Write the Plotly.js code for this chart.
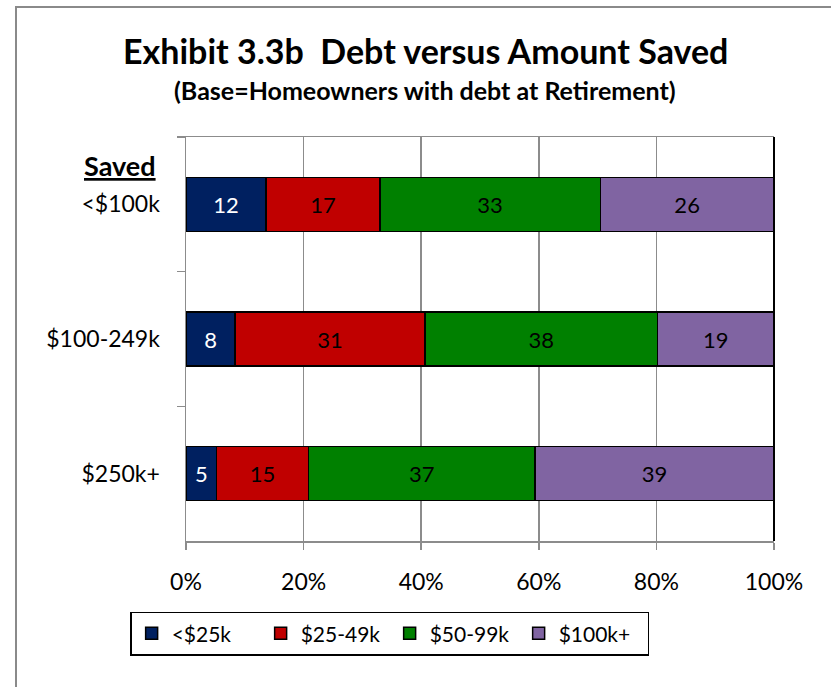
<!DOCTYPE html>
<html>
<head>
<meta charset="utf-8">
<script src="https://cdn.plot.ly/plotly-3.0.1.min.js"></script>
<style>
  body { margin: 0; background: #fff; }
  #wrap { position: relative; width: 831px; height: 687px; }
  #chart { width: 831px; height: 687px; }
  #frame { position: absolute; left: 15px; top: 6px; right: 0; bottom: 0;
           border-left: 2px solid #8a8a8a; border-top: 2px solid #8a8a8a; pointer-events: none; }
</style>
</head>
<body>
<div id="wrap">
  <div id="chart"></div>
  <div id="frame"></div>
</div>
<script>
// amount saved groups, top to bottom
const saved = ['<$100k', '$100-249k', '$250k+'];

// debt at retirement (% of homeowners with debt)
const debtUnder25 = [12, 8, 5];
const debt25to49 = [17, 31, 15];
const debt50to99 = [33, 38, 37];
const debt100plus = [26, 19, 39];

const seriesNames = ['<$25k', '$25-49k', '$50-99k', '$100k+'];
const seriesValues = [debtUnder25, debt25to49, debt50to99, debt100plus];
const colors = ['#002060', '#C00000', '#008000', '#8064A2'];
const textColors = ['#ffffff', '#000000', '#000000', '#000000'];

const pctTicks = [0, 20, 40, 60, 80, 100];

const FONT = 'Lato, Calibri, "Liberation Sans", sans-serif';

const traces = seriesValues.map((vals, i) => ({
  type: 'bar',
  orientation: 'h',
  name: seriesNames[i],
  y: saved,
  x: vals,
  text: vals.map(String),
  texttemplate: '%{text}',
  textposition: 'inside',
  insidetextanchor: 'middle',
  textangle: 0,
  constraintext: 'none',
  textfont: { family: FONT, size: 22, color: textColors[i] },
  marker: { color: colors[i], line: { color: '#000000', width: 1.5 } },
  hoverinfo: 'name+x'
}));

const layout = {
  width: 831,
  height: 687,
  margin: { l: 186, r: 57, t: 137, b: 146 },
  paper_bgcolor: '#ffffff',
  plot_bgcolor: '#ffffff',
  font: { family: FONT, size: 22, color: '#000000' },
  barmode: 'stack',
  barnorm: 'percent',
  bargap: 0.6,
  showlegend: true,
  xaxis: {
    range: [0, 100],
    tickmode: 'array',
    tickvals: pctTicks,
    ticktext: pctTicks.map(v => v + '%'),
    showgrid: true,
    gridcolor: '#8c8c8c',
    gridwidth: 1.5,
    zeroline: false,
    showline: true,
    linecolor: '#8c8c8c',
    linewidth: 1.5,
    mirror: true,
    ticks: 'outside',
    ticklen: 7,
    tickcolor: '#8c8c8c',
    tickwidth: 1.5,
    ticklabelstandoff: 13,
    tickfont: { family: FONT, size: 23 },
    fixedrange: true
  },
  yaxis: {
    type: 'category',
    categoryorder: 'array',
    categoryarray: saved,
    autorange: 'reversed',
    showgrid: false,
    zeroline: false,
    showline: true,
    linecolor: '#8c8c8c',
    linewidth: 1.5,
    ticks: 'outside',
    tickson: 'boundaries',
    ticklen: 8,
    tickcolor: '#8c8c8c',
    tickwidth: 1.5,
    ticklabelstandoff: 20,
    tickfont: { family: FONT, size: 23 },
    fixedrange: true
  },
  legend: {
    orientation: 'h',
    x: -0.095,
    xanchor: 'left',
    y: -0.175,
    yanchor: 'top',
    bgcolor: '#ffffff',
    bordercolor: '#000000',
    borderwidth: 1.5,
    traceorder: 'normal',
    entrywidth: 84,
    entrywidthmode: 'pixels',
    font: { family: FONT, size: 21 }
  },
  shapes: [
    { type: 'line', xref: 'paper', yref: 'paper', x0: 1, x1: 1, y0: 0, y1: 1,
      line: { color: '#000000', width: 2 } }
  ],
  annotations: [
    { text: '<b>Exhibit 3.3b  Debt versus Amount Saved</b>', xref: 'paper', yref: 'paper',
      x: (425 - 186) / 588, y: 1 + (137 - 50) / 404, xanchor: 'center', yanchor: 'middle',
      showarrow: false, font: { family: FONT, size: 34 } },
    { text: '<b>(Base=Homeowners with debt at Retirement)</b>', xref: 'paper', yref: 'paper',
      x: (425 - 186) / 588, y: 1 + (137 - 90) / 404, xanchor: 'center', yanchor: 'middle',
      showarrow: false, font: { family: FONT, size: 25 } },
    { text: '<b><u>Saved</u></b>', xref: 'paper', yref: 'paper',
      x: (158 - 186) / 588, y: (541 - 166) / 404, xanchor: 'right', yanchor: 'middle',
      showarrow: false, font: { family: FONT, size: 27 } }
  ]
};

Plotly.newPlot('chart', traces, layout, { displayModeBar: false, staticPlot: true });
</script>
</body>
</html>
